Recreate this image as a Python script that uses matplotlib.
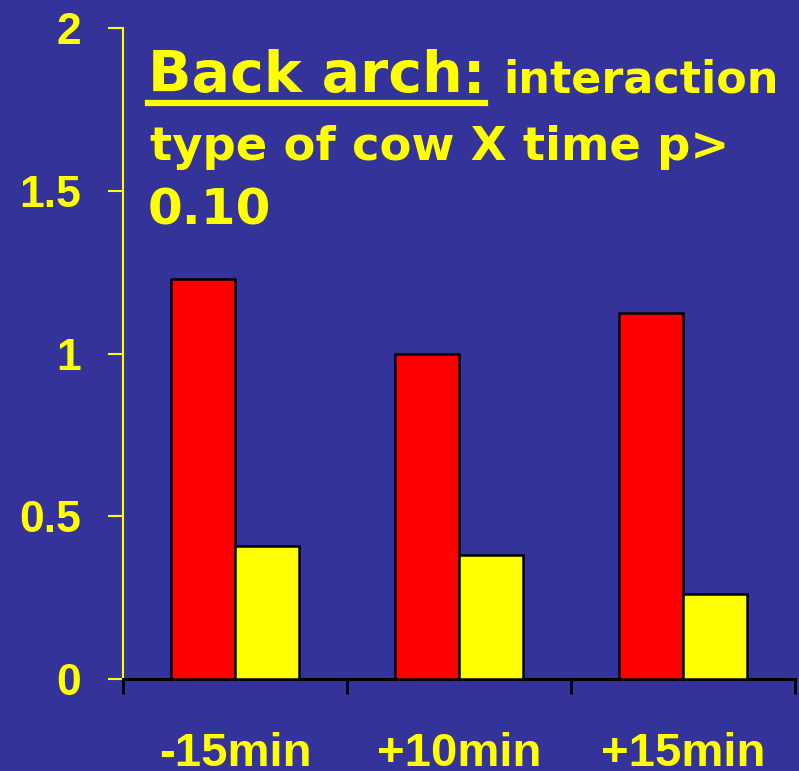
import numpy as np
import matplotlib
matplotlib.use('Agg')
import matplotlib.pyplot as plt
from matplotlib.lines import Line2D

# values
times = ['-15min', '+10min', '+15min']
red_vals = [1.23, 1.00, 1.125]
yellow_vals = [0.41, 0.38, 0.26]
y_ticks = [0, 0.5, 1, 1.5, 2]
y_tick_labels = ['0', '0.5', '1', '1.5', '2']

bg = '#333399'
yel = '#FFFF00'

fig = plt.figure(figsize=(7.99, 7.71), dpi=100, facecolor=bg)
ax = fig.add_axes([0.154, 0.1193, 0.841, 0.8444])
ax.set_facecolor(bg)

centers = np.arange(len(times)) + 0.5
w = 0.285
ax.bar(centers - w, red_vals, width=w, align='edge', color='#FF0000',
       edgecolor='black', linewidth=1.8, zorder=3)
ax.bar(centers, yellow_vals, width=w, align='edge', color=yel,
       edgecolor='black', linewidth=1.8, zorder=3)

ax.set_xlim(0, 3)
ax.set_ylim(0, 2)

# spines
for s in ['top', 'right']:
    ax.spines[s].set_visible(False)
ax.spines['left'].set_color(yel)
ax.spines['left'].set_linewidth(1.5)
ax.spines['bottom'].set_color('black')
ax.spines['bottom'].set_linewidth(2.2)

# y axis
ax.set_yticks(y_ticks)
ax.set_yticklabels(y_tick_labels, fontfamily='Liberation Sans',
                   fontweight='bold', fontsize=32, color=yel)
ax.tick_params(axis='y', colors=yel, length=11, width=1.5, pad=19,
               labelcolor=yel)

# x axis: boundary ticks, labels in between
ax.set_xticks([0, 1, 2, 3])
ax.set_xticklabels([])
ax.tick_params(axis='x', which='major', length=11, width=2, color='black')
ax.set_xticks(centers, minor=True)
ax.set_xticklabels(times, minor=True, fontfamily='Liberation Sans',
                   fontweight='bold', fontsize=34, color=yel)
ax.tick_params(axis='x', which='minor', length=0, pad=38)

# title text inside the plot
tfont = 'DejaVu Sans'
t1 = ax.text(0.11, 1.803, 'Back arch:', fontsize=41, color=yel,
             fontfamily=tfont, fontweight='bold', va='baseline', ha='left')
ax.annotate('interaction', xy=(1, 1.803), xycoords=(t1, 'data'),
            xytext=(13, 0), textcoords='offset points', fontsize=32,
            color=yel, fontfamily=tfont, fontweight='bold',
            va='baseline', ha='left')
ax.text(0.12, 1.594, 'type of cow X time p>', fontsize=33.5, color=yel,
        fontfamily=tfont, fontweight='bold', va='baseline', ha='left')
ax.text(0.11, 1.395, '0.10', fontsize=36, color=yel,
        fontfamily=tfont, fontweight='bold', va='baseline', ha='left')

# underline for "Back arch:"
fig.canvas.draw()
bb = t1.get_window_extent(fig.canvas.get_renderer())
inv = fig.transFigure.inverted()
(x0, y0), (x1, y1) = inv.transform([(bb.x0, bb.y0), (bb.x1, bb.y0)])
fig.add_artist(Line2D([x0, x1], [y0 + 0.002, y0 + 0.002], color=yel,
                      linewidth=4.5, transform=fig.transFigure))

fig.savefig('out.png', dpi=100, facecolor=bg)
